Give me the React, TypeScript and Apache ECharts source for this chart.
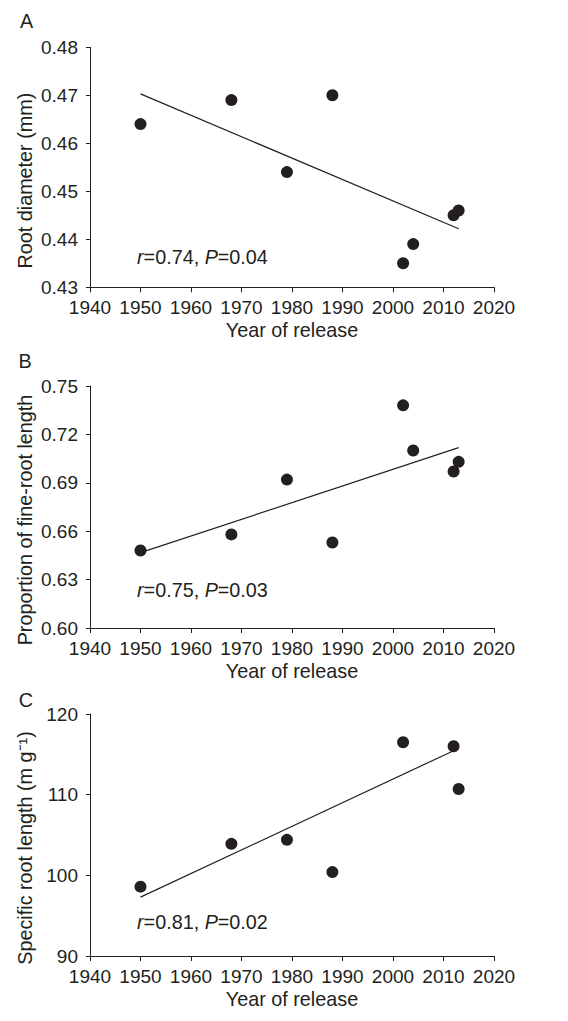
import React, { useEffect, useRef } from "react";
import * as echarts from "echarts";

const yearsAB = [1950, 1968, 1979, 1988, 2002, 2004, 2012, 2013];
const rootDiameter = [0.464, 0.469, 0.454, 0.47, 0.435, 0.439, 0.445, 0.446];
const fineRootProp = [0.648, 0.658, 0.692, 0.653, 0.738, 0.71, 0.697, 0.703];
const yearsC = [1950, 1968, 1979, 1988, 2002, 2012, 2013];
const specificRootLength = [98.6, 103.9, 104.4, 100.4, 116.5, 116.0, 110.7];

const trendA = [[1950, 0.4703], [2013, 0.4422]];
const trendB = [[1950, 0.6467], [2013, 0.7118]];
const trendC = [[1950, 97.3], [2012, 115.45]];

const xTicks = { min: 1940, max: 2020, interval: 10 };
const panelLetters = ["A", "B", "C"];
const yTitles = ["Root diameter (mm)", "Proportion of fine-root length", "Specific root length (m g⁻¹)"];
const stats = [["0.74", "0.04"], ["0.75", "0.03"], ["0.81", "0.02"]];
const xTitle = "Year of release";

const INK = "#231f20";
const FONT = "Liberation Sans, Arial, Helvetica, sans-serif";
const FS = 19;
const FT = 19.8;

export default function App() {
  const ref = useRef<HTMLDivElement>(null);
  useEffect(() => {
    if (!ref.current) return;
    const chart = echarts.init(ref.current, undefined, { renderer: "svg" });
    const grids = [
      { left: 90, width: 404, top: 47.3, height: 240 },
      { left: 90, width: 404, top: 386, height: 242 },
      { left: 90, width: 404, top: 714, height: 242 },
    ];
    const yCfg = [
      { min: 0.43, max: 0.48, interval: 0.01, fmt: (v: number) => v.toFixed(2) },
      { min: 0.6, max: 0.75, interval: 0.03, fmt: (v: number) => v.toFixed(2) },
      { min: 90, max: 120, interval: 10, fmt: (v: number) => String(Math.round(v)) },
    ];
    const axisLine = { show: true, lineStyle: { color: INK, width: 1 } };
    const xAxis = grids.map((_, i) => ({
      type: "value",
      gridIndex: i,
      ...xTicks,
      name: xTitle,
      nameLocation: "middle",
      nameGap: 33,
      nameTextStyle: { color: INK, fontSize: FT, fontFamily: FONT },
      axisLine,
      axisTick: { show: true, length: 5, lineStyle: { color: INK } },
      axisLabel: {
        color: INK,
        fontSize: FS,
        fontFamily: FONT,
        margin: 11,
        formatter: (v: number) => String(Math.round(v)),
      },
      splitLine: { show: false },
    }));
    const yAxis = grids.map((_, i) => ({
      type: "value",
      gridIndex: i,
      min: yCfg[i].min,
      max: yCfg[i].max,
      interval: yCfg[i].interval,
      axisLine,
      axisTick: { show: true, length: 4, lineStyle: { color: INK } },
      axisLabel: { color: INK, fontSize: FS, fontFamily: FONT, margin: 12, formatter: yCfg[i].fmt },
      splitLine: { show: false },
    }));
    const scatter = (xs: number[], ys: number[], i: number) => ({
      type: "scatter",
      xAxisIndex: i,
      yAxisIndex: i,
      data: xs.map((x, k) => [x, ys[k]]),
      symbol: "circle",
      symbolSize: 12,
      itemStyle: { color: INK, opacity: 1 },
      z: 3,
    });
    const trend = (d: number[][], i: number) => ({
      type: "line",
      xAxisIndex: i,
      yAxisIndex: i,
      data: d,
      symbol: "none",
      lineStyle: { color: INK, width: 1.2 },
      z: 2,
    });
    const letterPos = [[26.5, 21], [25, 361], [26, 700]];
    const yTitlePos = [[25, 180.6], [25, 520], [25, 848]];
    const statY = [256.7, 590, 921.7];
    const graphic: any[] = [];
    panelLetters.forEach((l, i) => {
      graphic.push({
        type: "text",
        x: letterPos[i][0],
        y: letterPos[i][1],
        style: { text: l, fill: INK, font: `${FT}px ${FONT}`, align: "center", verticalAlign: "middle" },
      });
      graphic.push({
        type: "text",
        x: yTitlePos[i][0],
        y: yTitlePos[i][1],
        rotation: Math.PI / 2,
        style: { text: yTitles[i], fill: INK, font: `${FT}px ${FONT}`, align: "center", verticalAlign: "middle" },
      });
      graphic.push({
        type: "text",
        x: 137,
        y: statY[i],
        style: {
          text: `{i|r}{n|=${stats[i][0]}, }{i|P}{n|=${stats[i][1]}}`,
          align: "left",
          verticalAlign: "middle",
          rich: {
            i: { fill: INK, fontSize: FT, fontFamily: FONT, fontStyle: "italic" },
            n: { fill: INK, fontSize: FT, fontFamily: FONT },
          },
        },
      });
    });
    chart.setOption({
      animation: false,
      backgroundColor: "#ffffff",
      grid: grids,
      xAxis,
      yAxis,
      series: [
        scatter(yearsAB, rootDiameter, 0),
        trend(trendA, 0),
        scatter(yearsAB, fineRootProp, 1),
        trend(trendB, 1),
        scatter(yearsC, specificRootLength, 2),
        trend(trendC, 2),
      ],
      graphic,
    });
    return () => chart.dispose();
  }, []);
  return (
    <div
      ref={ref}
      style={{ position: "fixed", left: 0, top: 0, width: 568, height: 1021, background: "#fff" }}
    />
  );
}
